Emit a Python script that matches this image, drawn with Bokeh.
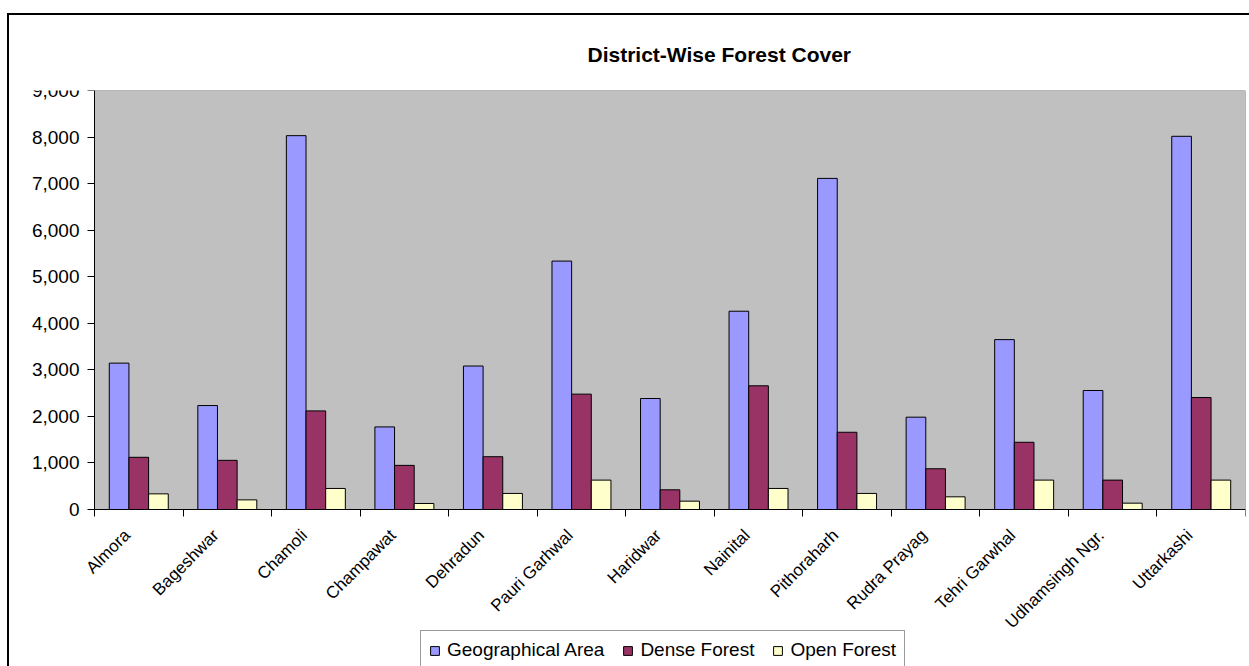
from math import pi

from bokeh.embed import file_html
from bokeh.models import (ColumnDataSource, FixedTicker, Legend, LegendItem, LinearAxis,
                          NumeralTickFormatter, Range1d)
from bokeh.plotting import figure
from bokeh.resources import INLINE
from bokeh.transform import dodge

# District-wise forest cover (sq. km)
districts = ["Almora", "Bageshwar", "Chamoli", "Champawat", "Dehradun", "Pauri Garhwal",
             "Haridwar", "Nainital", "Pithoraharh", "Rudra Prayag", "Tehri Garwhal",
             "Udhamsingh Ngr.", "Uttarkashi"]
geographical_area = [3144, 2233, 8030, 1774, 3082, 5336, 2384, 4259, 7112, 1983, 3649, 2556, 8016]
dense_forest = [1121, 1056, 2118, 948, 1134, 2478, 423, 2657, 1659, 875, 1444, 631, 2405]
open_forest = [336, 207, 452, 129, 345, 631, 179, 452, 345, 272, 631, 136, 631]
y_ticks = list(range(0, 9001, 1000))

FONT = "Liberation Sans"
Y_MAX = 9000

n = len(districts)
slot_centers = [i + 0.5 for i in range(n)]   # each district occupies one unit slot
slot_edges = list(range(n + 1))
label_anchors = [c - 0.13 for c in slot_centers]  # rotated names end just left of centre

source = ColumnDataSource(dict(slot=slot_centers, geo=geographical_area,
                               dense=dense_forest, open=open_forest))

# The frame covers the whole drawing area so that the value labels, the rotated
# names and the legend all sit inside it; the grey plot area keeps 1151 x 419 px.
PLOT_W, PLOT_H = 1151, 419
LEFT_PAD = 85
FRAME_W, FRAME_H = PLOT_W + LEFT_PAD, 576
x_floor = -n * LEFT_PAD / PLOT_W
y_floor = -Y_MAX * (FRAME_H - PLOT_H) / PLOT_H

p = figure(frame_width=FRAME_W, frame_height=FRAME_H,
           x_range=Range1d(x_floor, n), y_range=Range1d(y_floor, Y_MAX),
           output_backend="svg", toolbar_location=None,
           x_axis_location=None, y_axis_location="left",
           min_border_left=0, min_border_right=4, min_border_top=75, min_border_bottom=0)
p.styles = {"margin-left": "7px", "margin-top": "13px",
            "border-left": "2px solid #000", "border-top": "2px solid #000"}

p.background_fill_color = "white"
p.border_fill_color = "white"
p.outline_line_color = None
p.grid.visible = False

# grey plot area
p.quad(left=0, right=n, bottom=0, top=Y_MAX, fill_color="#C0C0C0",
       line_color="#808080", line_width=1)

# title
p.title.text = "District-Wise Forest Cover"
p.title.align = "left"
p.title.offset = 578
p.title.standoff = 50
p.title.text_font = FONT
p.title.text_font_style = "bold"
p.title.text_font_size = "21px"
p.title.text_color = "black"

# value axis
yaxis = p.yaxis[0]
yaxis.fixed_location = 0
yaxis.bounds = (0, Y_MAX)
yaxis.ticker = FixedTicker(ticks=y_ticks)
yaxis.formatter = NumeralTickFormatter(format="0,0")
yaxis.major_tick_out = 7
yaxis.major_tick_in = 0
yaxis.minor_tick_line_color = None
yaxis.axis_line_color = "black"
yaxis.major_tick_line_color = "black"
yaxis.major_label_standoff = 8
yaxis.major_label_text_font = FONT
yaxis.major_label_text_font_size = "19px"
yaxis.major_label_text_color = "black"

# baseline with tick marks between district slots
slot_axis = LinearAxis(fixed_location=0, bounds=(0, n), ticker=FixedTicker(ticks=slot_edges),
                       major_tick_out=7, major_tick_in=0, minor_tick_line_color=None,
                       major_label_text_font_size="0px", major_label_standoff=0,
                       axis_line_color="black", major_tick_line_color="black")
p.add_layout(slot_axis, "below")

# district names
name_axis = LinearAxis(fixed_location=0, ticker=FixedTicker(ticks=label_anchors),
                       major_label_overrides={a: d for a, d in zip(label_anchors, districts)},
                       major_tick_line_color=None, minor_tick_line_color=None,
                       axis_line_color=None,
                       major_label_orientation=pi / 4, major_label_standoff=17,
                       major_label_text_font=FONT, major_label_text_font_size="17px",
                       major_label_text_color="black")
p.add_layout(name_axis, "below")

w = 0.222
r_geo = p.vbar(x=dodge("slot", -w), top="geo", width=w, source=source,
               fill_color="#9999FF", line_color="black", line_width=1)
r_dense = p.vbar(x="slot", top="dense", width=w, source=source,
                 fill_color="#993366", line_color="black", line_width=1)
r_open = p.vbar(x=dodge("slot", w), top="open", width=w, source=source,
                fill_color="#FFFFCC", line_color="black", line_width=1)

legend = Legend(items=[LegendItem(label="Geographical Area", renderers=[r_geo]),
                       LegendItem(label="Dense Forest", renderers=[r_dense]),
                       LegendItem(label="Open Forest", renderers=[r_open])],
                orientation="horizontal", location=(LEFT_PAD + 326, -4),
                glyph_width=11, glyph_height=11, label_standoff=7, spacing=18,
                padding=8, margin=0,
                label_text_font=FONT, label_text_font_size="19px", label_text_color="black",
                border_line_color="#333333", border_line_width=1,
                background_fill_color="white", background_fill_alpha=1)
p.add_layout(legend)

open("out.html", "w").write(file_html(p, INLINE))
